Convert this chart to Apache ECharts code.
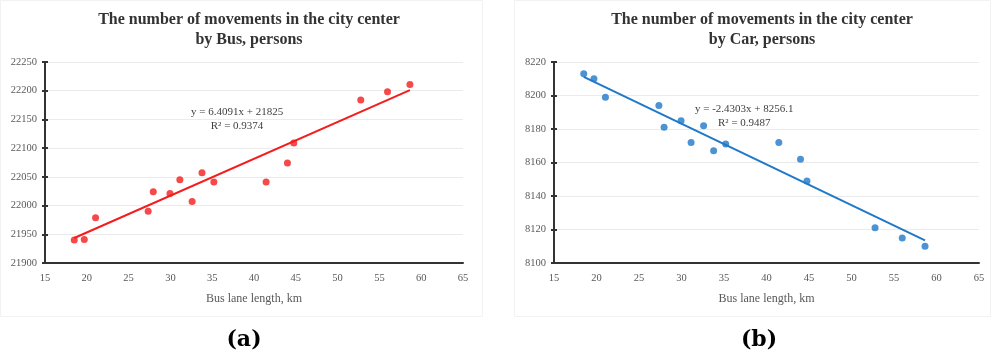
<!DOCTYPE html>
<html>
<head>
<meta charset="utf-8">
<script src="https://cdn.jsdelivr.net/npm/echarts@6/dist/echarts.min.js"></script>
<style>
  html, body { margin: 0; padding: 0; background: #fff; }
  #chart { width: 991px; height: 354px; }
</style>
</head>
<body>
<div id="chart"></div>
<script>
// Bus lane length (km) for each observation
const laneLength = [18.5, 19.7, 21.05, 27.34, 27.95, 29.95, 31.13, 32.6, 33.78, 35.2, 41.45, 44.0, 44.76, 52.77, 55.97, 58.65];
// Movements by bus, persons
const busMovements = [21940, 21941, 21979, 21990, 22024, 22021, 22045, 22007, 22057, 22041, 22041, 22074, 22109, 22184, 22198, 22211];
// Movements by car, persons
const carMovements = [8213, 8210, 8199, 8194, 8181, 8185, 8172, 8182, 8167, 8171, 8172, 8162, 8149, 8121, 8115, 8110];

// Linear trend coefficients [slope, intercept] and R²
const busTrend = [6.4091, 21825];
const busR2 = 0.9374;
const carTrend = [-2.4303, 8256.1];
const carR2 = 0.9487;

const xTicks = [15, 65, 5];
const busTicks = [21900, 22250, 50];
const carTicks = [8100, 8220, 20];

const serif = '"Liberation Serif", "DejaVu Serif", serif';

function pairs(xs, ys) { return xs.map((x, i) => [x, ys[i]]); }
function trendLine(xs, coef) {
  const lo = Math.min(...xs), hi = Math.max(...xs);
  return [[lo, coef[0] * lo + coef[1]], [hi, coef[0] * hi + coef[1]]];
}
function eqText(coef) {
  const sign = coef[1] >= 0 ? '+' : '-';
  return 'y = ' + coef[0] + 'x ' + sign + ' ' + Math.abs(coef[1]);
}
const plain = v => String(v);

function xAxisCfg(gridIndex) {
  return {
    type: 'value', gridIndex, min: xTicks[0], max: xTicks[1], interval: xTicks[2],
    name: 'Bus lane length, km', nameLocation: 'middle', nameGap: 30,
    nameTextStyle: { fontFamily: serif, fontSize: 12, color: '#595959' },
    axisLine: { show: true, lineStyle: { color: '#333', width: 2 } },
    axisTick: { show: false },
    axisLabel: { fontFamily: serif, fontSize: 10.5, color: '#595959', margin: 10, formatter: plain },
    splitLine: { show: false }
  };
}
function yAxisCfg(gridIndex, t) {
  return {
    type: 'value', gridIndex, min: t[0], max: t[1], interval: t[2],
    axisLine: { show: true, onZero: false, lineStyle: { color: '#333', width: 2 } },
    axisTick: { show: true, length: 3, lineStyle: { color: '#333', width: 2 } },
    axisLabel: { fontFamily: serif, fontSize: 10.5, color: '#595959', margin: 8, formatter: plain },
    splitLine: { show: true, lineStyle: { color: '#ebebeb', width: 1 } }
  };
}
// inward half of the crossing tick marks
function yTickInner(gridIndex, t) {
  return {
    type: 'value', gridIndex, min: t[0], max: t[1], interval: t[2], position: 'left',
    axisLine: { show: false },
    axisTick: { show: true, inside: true, length: 3, lineStyle: { color: '#333', width: 2 } },
    axisLabel: { show: false }, splitLine: { show: false }
  };
}

const chart = echarts.init(document.getElementById('chart'), null, { renderer: 'canvas' });

const titleStyle = { fontFamily: serif, fontSize: 16, fontWeight: 'bold', color: '#333', lineHeight: 20, align: 'center' };
const eqStyle = { fontFamily: serif, fontSize: 11, fill: '#404040', textAlign: 'center', lineHeight: 14 };
const panelLabel = { fontFamily: '"DejaVu Serif", serif', fontSize: 22, fontWeight: 'bold', fill: '#000', textAlign: 'center', textVerticalAlign: 'middle' };

chart.setOption({
  animation: false,
  title: [
    { text: 'The number of movements in the city center\nby Bus, persons', left: 244, top: 5, textAlign: 'center', textStyle: titleStyle },
    { text: 'The number of movements in the city center\nby Car, persons', left: 757, top: 5, textAlign: 'center', textStyle: titleStyle }
  ],
  grid: [
    { left: 45, right: 528, top: 62, bottom: 91 },
    { left: 554, right: 12, top: 62, bottom: 91 }
  ],
  xAxis: [xAxisCfg(0), xAxisCfg(1)],
  yAxis: [yAxisCfg(0, busTicks), yAxisCfg(1, carTicks), yTickInner(0, busTicks), yTickInner(1, carTicks)],
  series: [
    {
      type: 'line', xAxisIndex: 0, yAxisIndex: 0, data: trendLine(laneLength, busTrend),
      symbol: 'none', lineStyle: { color: '#f41c1c', width: 2 }, z: 2
    },
    {
      type: 'scatter', xAxisIndex: 0, yAxisIndex: 0, data: pairs(laneLength, busMovements),
      symbolSize: 7, itemStyle: { color: '#f41c1c' }, z: 3
    },
    {
      type: 'line', xAxisIndex: 1, yAxisIndex: 1, data: trendLine(laneLength, carTrend),
      symbol: 'none', lineStyle: { color: '#1f78c8', width: 2 }, z: 2
    },
    {
      type: 'scatter', xAxisIndex: 1, yAxisIndex: 1, data: pairs(laneLength, carMovements),
      symbolSize: 7, itemStyle: { color: '#1f78c8' }, z: 3
    }
  ],
  graphic: [
    { type: 'rect', shape: { x: 0.5, y: 0.5, width: 482, height: 316 }, style: { fill: 'none', stroke: '#f2f2f2', lineWidth: 1 }, silent: true, z: -1 },
    { type: 'rect', shape: { x: 514.5, y: 0.5, width: 476, height: 316 }, style: { fill: 'none', stroke: '#f2f2f2', lineWidth: 1 }, silent: true, z: -1 },
    { type: 'text', left: 191, top: 105, style: Object.assign({ text: eqText(busTrend) + '\nR² = ' + busR2 }, eqStyle) },
    { type: 'text', left: 695, top: 102, style: Object.assign({ text: eqText(carTrend) + '\nR² = ' + carR2 }, eqStyle) },
    { type: 'text', x: 244, y: 340, style: Object.assign({ text: '(a)' }, panelLabel) },
    { type: 'text', x: 759, y: 340, style: Object.assign({ text: '(b)' }, panelLabel) }
  ]
});
</script>
</body>
</html>
